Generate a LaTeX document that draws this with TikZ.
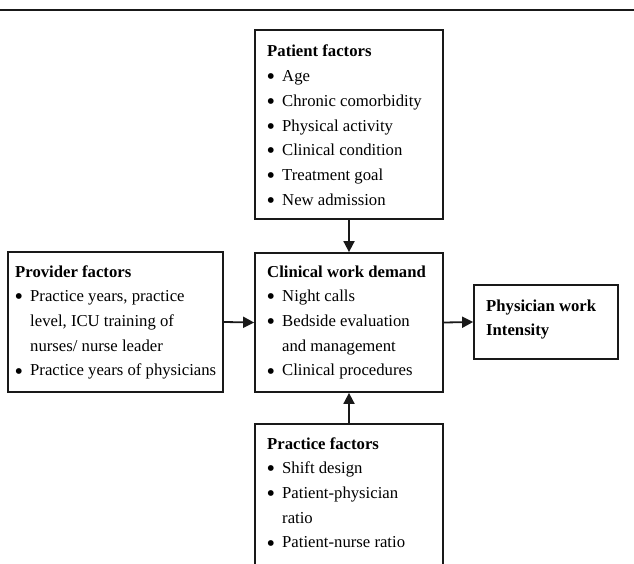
\documentclass[tikz,border=0pt]{standalone}
\usepackage{fontspec}
\usepackage{graphicx}
\setmainfont{Liberation Serif}
\usetikzlibrary{arrows.meta}
\newcommand{\bul}{\makebox[15pt][l]{\hspace*{-0.5pt}\raisebox{-3.2pt}{\scalebox{1.45}{\textbullet}}}}
\newcommand{\ind}{\hspace*{15pt}}
\tikzset{
  box/.style={draw=black!90, line width=1.8pt, rectangle, inner sep=0pt},
  txt/.style={anchor=base west, inner sep=0pt, align=left},
  arr/.style={draw=black!90, line width=1.8pt, -{Triangle[length=11pt,width=11pt]}},
  rulel/.style={draw=black!90, line width=2.5pt}
}
\newcommand{\blk}[1]{\parbox[t]{320pt}{\fontsize{16.7}{24.7}\selectfont\raggedright #1}}
\begin{document}
\begin{tikzpicture}[x=1pt,y=-1pt]
\useasboundingbox (0,0) rectangle (634,564);
\begin{scope}
\clip (0,0) rectangle (634,564);
\coordinate (rl) at (0,10);
\coordinate (rr) at (634,10);
\draw[rulel] (rl) -- (rr);
% boxes
\node[box, minimum width=188pt, minimum height=189pt] (patient) at (349,124.5) {};
\node[box, minimum width=188pt, minimum height=139pt] (clinical) at (349,322.5) {};
\node[box, minimum width=215pt, minimum height=140pt] (provider) at (115.5,322) {};
\node[box, minimum width=144pt, minimum height=74pt] (physician) at (546,322) {};
\node[box, minimum width=188pt, minimum height=180pt] (practice) at (349,514) {};
% texts
\node[txt] (ptxt) at (267,57) {\blk{\textbf{Patient factors}\\
\bul Age\\
\bul Chronic comorbidity\\
\bul Physical activity\\
\bul Clinical condition\\
\bul Treatment goal\\
\bul New admission}};
\node[txt] (ctxt) at (267,277) {\blk{\textbf{Clinical work demand}\\
\bul Night calls\\
\bul Bedside evaluation\\
\ind and management\\
\bul Clinical procedures}};
\node[txt] (prtxt) at (15,277) {\blk{\textbf{Provider factors}\\
\bul Practice years, practice\\
\ind level, ICU training of\\
\ind nurses/ nurse leader\\
\bul Practice years of physicians}};
\node[txt] (phtxt) at (486,311) {\blk{\textbf{Physician work}\\
\textbf{Intensity}}};
\node[txt] (pftxt) at (267,449) {\blk{\textbf{Practice factors}\\
\bul Shift design\\
\bul Patient-physician\\
\ind ratio\\
\bul Patient-nurse ratio}};
% arrows
\draw[arr] (patient.south) -- (clinical.north);
\draw[arr] (practice.north) -- (clinical.south);
\draw[arr] (provider.east) -- (clinical.west);
\draw[arr] (clinical.east) -- (physician.west);
\end{scope}
\end{tikzpicture}
\end{document}
